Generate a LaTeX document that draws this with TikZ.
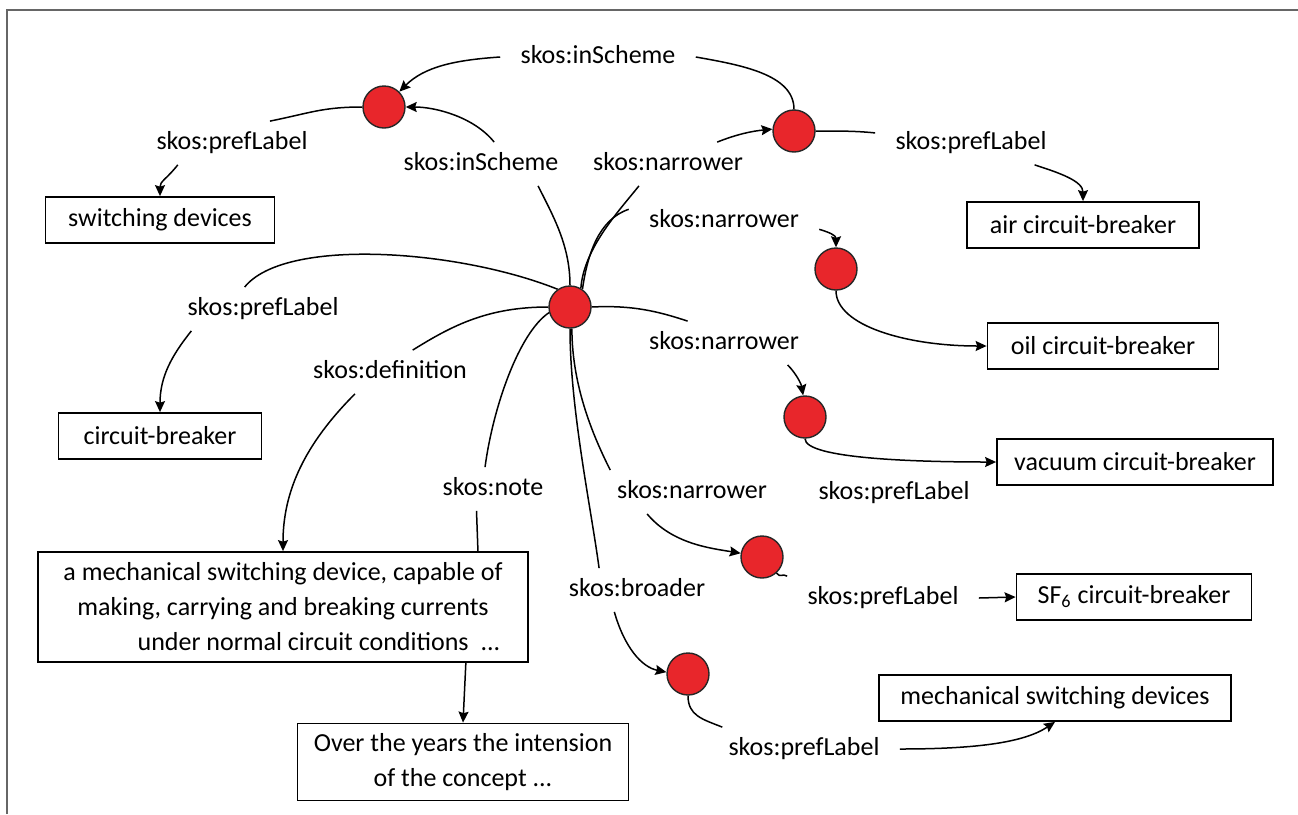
\documentclass[tikz,border=0pt]{standalone}
\usepackage{fontspec}
\setmainfont{Carlito}
\usepackage{xcolor}
\usetikzlibrary{arrows.meta}
\definecolor{conceptred}{HTML}{E8262B}

\begin{document}
\begin{tikzpicture}[x=0.5bp, y=-0.5bp,
    font=\fontsize{13bp}{17.5bp}\selectfont,
    concept/.style={circle, draw=black!85, fill=conceptred, line width=0.7bp, minimum size=21bp, inner sep=0pt},
    lbl/.style={inner xsep=10bp, inner ysep=5bp, text height=9bp, text depth=2.5bp},
    term/.style={draw, line width=0.9bp, minimum height=23bp, inner sep=0pt},
    rel/.style={line width=0.75bp},
    relarr/.style={rel, -{Stealth[length=5.5bp, width=5bp, inset=0.8bp]}}]
      \useasboundingbox (0,0) rectangle (1298,814);
      % Frame
      \draw[line width=0.7bp, black!60] (7,814) -- (7,10) -- (1298,10);
      % Concepts
      \node[concept] (ccb) at (570,307) {};
      \node[concept] (csd) at (384,107) {};
      \node[concept] (cacb) at (794,131) {};
      \node[concept] (cocb) at (836,269) {};
      \node[concept] (cvcb) at (805,417) {};
      \node[concept] (csf) at (762,557) {};
      \node[concept] (cmsd) at (688,674) {};
      % Terms
      \node[term, minimum width=114.5bp] (sd) at (160,220) {switching devices};
      \node[term, minimum width=116bp] (acb) at (1083,225) {air circuit-breaker};
      \node[term, minimum width=101.5bp] (cb) at (160,436) {circuit-breaker};
      \node[term, minimum width=115.5bp] (ocb) at (1103,346) {oil circuit-breaker};
      \node[term, minimum width=138bp] (vcb) at (1135,462) {vacuum circuit-breaker};
      \node[term, minimum width=117.5bp] (sfcb) at (1134,597) {SF\textsubscript{6} circuit-breaker};
      \node[term, minimum width=176bp] (msd) at (1055,698) {mechanical switching devices};
      \node[term, minimum width=245bp, minimum height=55bp, align=center] (def) at (283,607)
        {a mechanical switching device, capable of\\making, carrying and breaking currents\\\hspace*{36bp}under normal circuit conditions\hspace{6bp}...};
      \node[term, minimum width=165.5bp, minimum height=38.5bp, align=center] (note) at (463,762)
        {Over the years the intension\\of the concept ...};
      % Labels
      \node[lbl] (insch1) at (598,57) {skos:inScheme};
      \node[lbl] (insch2) at (481,164) {skos:inScheme};
      \node[lbl] (prefsd) at (232,143) {skos:prefLabel};
      \node[lbl] (narr1) at (668,164) {skos:narrower};
      \node[lbl] (prefacb) at (971,143) {skos:prefLabel};
      \node[lbl] (narr2) at (724,221) {skos:narrower};
      \node[lbl] (prefcb) at (263,309) {skos:prefLabel};
      \node[lbl] (defl) at (390,372) {skos:definition};
      \node[lbl] (narr3) at (724,343) {skos:narrower};
      \node[lbl] (notel) at (493,489) {skos:note};
      \node[lbl] (narr4) at (692,492) {skos:narrower};
      \node[lbl] (prefvcb) at (894,493) {skos:prefLabel};
      \node[lbl] (broad) at (637,590) {skos:broader};
      \node[lbl] (prefsf) at (883,598) {skos:prefLabel};
      \node[lbl] (prefmsd) at (804,749) {skos:prefLabel};
      % Relations
      \draw[rel] (cacb.north) .. controls +(0,-35) and +(45,8) .. (insch1.east);
      \draw[relarr] (insch1.west) .. controls +(-45,3) and +(25,-25) .. (csd.45);
      \draw[rel] (csd.west) .. controls +(-40,0) and +(40,-8) .. (prefsd.30);
      \draw[relarr] (prefsd.-158) .. controls +(-12,15) and +(0,-15) .. (sd.north);
      \draw[rel] (ccb.north) .. controls +(0,-40) and +(15,30) .. (insch2.-21);
      \draw[relarr] (insch2.59) .. controls +(-20,-25) and +(30,0) .. (csd.east);
      \draw[rel] (ccb.60) .. controls +(3,-40) and +(-20,25) .. (narr1.-143);
      \draw[relarr] (narr1.24) .. controls +(20,-8) and +(-20,2) .. (cacb.175);
      \draw[rel] (cacb.east) .. controls +(25,0) and +(-20,-2) .. (prefacb.174);
      \draw[relarr] (prefacb.-19) .. controls +(25,8) and +(0,-20) .. (acb.north);
      \draw[rel] (ccb.55) .. controls +(5,-35) and +(-30,10) .. (narr2.173);
      \draw[relarr] (narr2.-5) .. controls +(10,3) and +(0,-12) .. (cocb.north);
      \draw[relarr] (cocb.south) .. controls +(0,35) and +(-80,0) .. (ocb.west);
      \draw[rel] (ccb.125) .. controls +(-100,-40) and +(40,-50) .. (prefcb.130);
      \draw[relarr] (prefcb.-163) .. controls +(-20,25) and +(0,-35) .. (cb.north);
      \draw[rel] (ccb.west) .. controls +(-60,0) and +(40,-25) .. (defl.44);
      \draw[relarr] (defl.-148) .. controls +(-50,50) and +(0,-60) .. (def.north);
      \draw[rel] (ccb.195) .. controls +(-30,20) and +(8,-60) .. (notel.110);
      \draw[rel] (notel.-127) -- (def.16);
      \draw[relarr] (def.-17) -- (note.north);
      \draw[rel] (ccb.east) .. controls +(40,-2) and +(-30,-10) .. (narr3.149);
      \draw[relarr] (narr3.-19) .. controls +(8,8) and +(-2,-12) .. (cvcb.95);
      \draw[relarr] (cvcb.south) .. controls +(0,20) and +(-80,0) .. (vcb.west);
      \draw[rel] (ccb.-85) .. controls +(0,60) and +(-15,-30) .. (narr4.165);
      \draw[relarr] (narr4.-154) .. controls +(25,30) and +(-30,-5) .. (csf.170);
      \draw[rel] (csf.-48) .. controls +(4,5) and +(-5,-3) .. (prefsf.north west);
      \draw[relarr] (prefsf.east) -- (sfcb.west);
      \draw[rel] (ccb.-90) .. controls +(0,80) and +(-8,-60) .. (broad.150);
      \draw[relarr] (broad.-136) .. controls +(10,35) and +(-25,-5) .. (cmsd.175);
      \draw[rel] (cmsd.south) .. controls +(0,20) and +(-20,-8) .. (prefmsd.165);
      \draw[relarr] (prefmsd.east) .. controls +(80,0) and +(-30,20) .. (msd.south);
\end{tikzpicture}
\end{document}
